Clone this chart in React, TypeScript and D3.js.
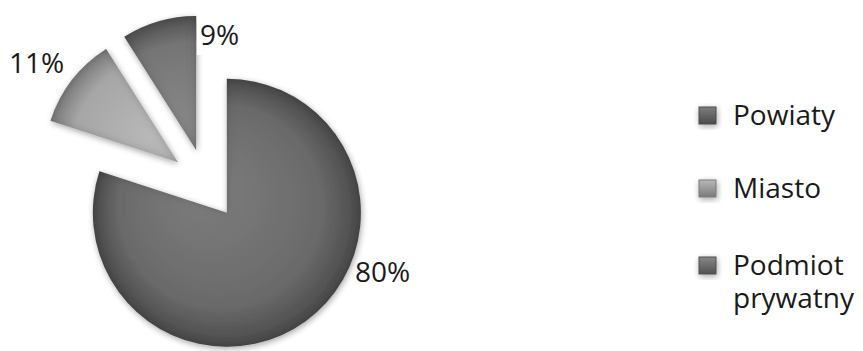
import React from "react";
import * as d3 from "d3";

const categories = ["Powiaty", "Miasto", "Podmiot prywatny"];
const values = [80, 11, 9];
const labels = ["80%", "11%", "9%"];
const baseColors = ["#6a6a6a", "#a6a6a6", "#747474"];
const lightColors = ["#7e7e7e", "#b8b8b8", "#888888"];
const darkColors = ["#4a4a4a", "#7a7a7a", "#505050"];

const W = 863;
const H = 351;
const CX = 206;
const CY = 184;
const R = 134;
const EXPLODE = 35.5;

export default function App() {
  const pie = d3.pie<number>().sort(null).value((d) => d).startAngle(0).endAngle(2 * Math.PI);
  const arcs = pie(values);
  const arc = d3.arc<d3.PieArcDatum<number>>().innerRadius(0).outerRadius(R);

  const font = "'Open Sans', 'Noto Sans', sans-serif";

  const labelPos = [
    { x: 355, y: 282 },
    { x: 9, y: 73 },
    { x: 200, y: 45 },
  ];

  const legendY = [125, 198, 275];

  return (
    <svg width={W} height={H} style={{ position: "absolute", left: 0, top: 0, background: "#fff" }}>
      <defs>
        <filter id="shadow" x="-30%" y="-30%" width="160%" height="160%">
          <feGaussianBlur in="SourceAlpha" stdDeviation="3" />
          <feOffset dx="1" dy="2" result="b" />
          <feComponentTransfer>
            <feFuncA type="linear" slope="0.35" />
          </feComponentTransfer>
          <feMerge>
            <feMergeNode />
            <feMergeNode in="SourceGraphic" />
          </feMerge>
        </filter>
        <filter id="inner" x="-10%" y="-10%" width="120%" height="120%">
          <feGaussianBlur in="SourceAlpha" stdDeviation="4" result="blur" />
          <feComposite in="SourceAlpha" in2="blur" operator="out" result="edge" />
          <feFlood floodColor="#000" floodOpacity="0.35" />
          <feComposite in2="edge" operator="in" result="edgeShade" />
          <feMerge>
            <feMergeNode in="SourceGraphic" />
            <feMergeNode in="edgeShade" />
          </feMerge>
        </filter>
        {arcs.map((a, i) => (
          <radialGradient
            key={i}
            id={`g${i}`}
            gradientUnits="userSpaceOnUse"
            cx={0}
            cy={0}
            r={R}
            fx={-R * 0.2}
            fy={-R * 0.2}
          >
            <stop offset="0" stopColor={lightColors[i]} />
            <stop offset="0.75" stopColor={baseColors[i]} />
            <stop offset="1" stopColor={darkColors[i]} />
          </radialGradient>
        ))}
        {categories.map((c, i) => (
          <linearGradient key={c} id={`lg${i}`} x1="0" y1="0" x2="0" y2="1">
            <stop offset="0" stopColor={lightColors[i]} />
            <stop offset="1" stopColor={darkColors[i]} />
          </linearGradient>
        ))}
      </defs>

      {arcs.map((a, i) => {
        const mid = (a.startAngle + a.endAngle) / 2;
        const dx = Math.sin(mid) * EXPLODE;
        const dy = -Math.cos(mid) * EXPLODE;
        return (
          <g key={i} transform={`translate(${CX + dx},${CY + dy})`} filter="url(#shadow)">
            <path d={arc(a) || ""} fill={`url(#g${i})`} filter="url(#inner)" />
          </g>
        );
      })}

      {/* white box behind 9% label */}
      <rect x={197} y={0} width={52} height={55} fill="#fff" />

      {labels.map((l, i) => (
        <text
          key={l}
          x={labelPos[i].x}
          y={labelPos[i].y}
          fontFamily={font}
          fontSize={28}
          fill="#1a1a1a"
        >
          {l}
        </text>
      ))}

      {categories.map((c, i) => {
        const words = c.split(" ");
        return (
          <g key={c}>
            <rect
              x={699}
              y={legendY[i] - 18}
              width={17}
              height={17}
              fill={`url(#lg${i})`}
              stroke={darkColors[i]}
              strokeWidth={1}
              filter="url(#shadow)"
            />
            <text x={733} y={legendY[i]} fontFamily={font} fontSize={28} fill="#1a1a1a">
              {words.map((w, j) => (
                <tspan key={j} x={733} dy={j === 0 ? 0 : 33}>
                  {w}
                </tspan>
              ))}
            </text>
          </g>
        );
      })}
    </svg>
  );
}
